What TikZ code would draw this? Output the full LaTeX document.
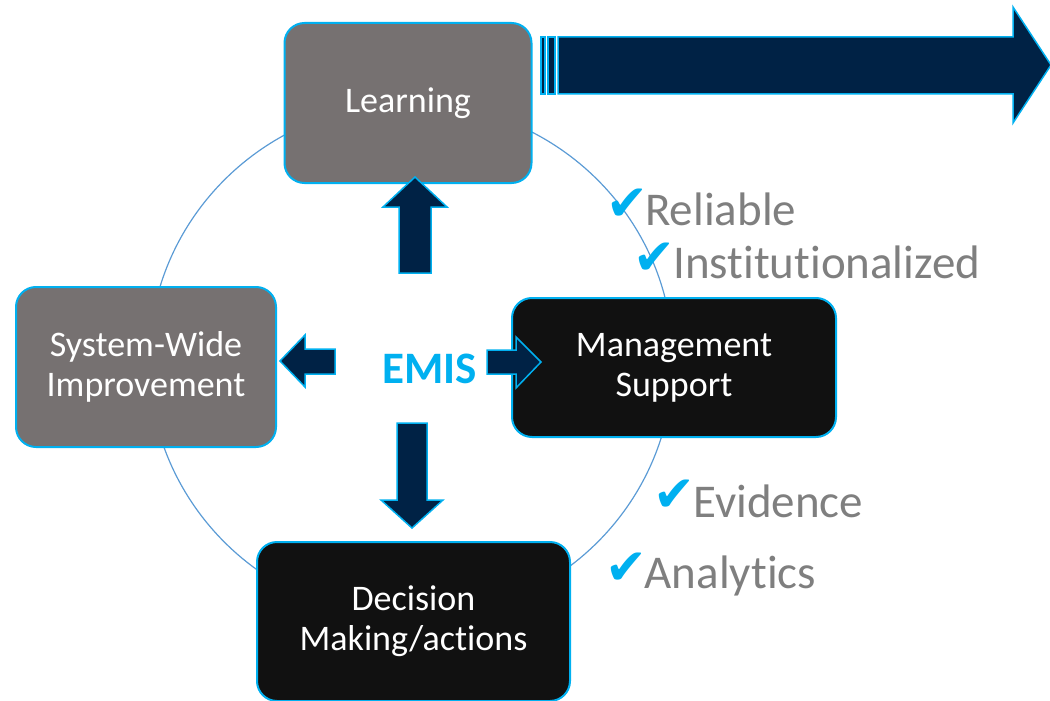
\documentclass[tikz,border=0pt]{standalone}
\usepackage{fontspec}
\setmainfont{Carlito}[Ligatures={NoCommon,NoContextual}]
\newfontfamily\symfont{DejaVu Sans}
\definecolor{boxgray}{HTML}{767171}
\definecolor{boxblack}{HTML}{111111}
\definecolor{cyanb}{HTML}{00B0F0}
\definecolor{navy}{HTML}{002245}
\definecolor{ringblue}{HTML}{5B9BD5}
\definecolor{labelgray}{HTML}{7F7F7F}
\begin{document}
\begin{tikzpicture}[x=1pt,y=-1pt,
 box/.style={draw=cyanb, line width=2pt, rounded corners=20pt, text=white, align=center, inner sep=0pt, font=\fontsize{36}{40}\selectfont},
 blockarrow/.style={fill=navy, draw=cyanb, line width=1.5pt, line join=miter},
 label/.style={anchor=base west, inner sep=0pt, text=labelgray, font=\fontsize{47}{56}\selectfont},
 tick/.style={inner sep=0pt, text=cyanb, font=\symfont\fontsize{50}{56}\selectfont}]
\useasboundingbox (0,0) rectangle (1050,701);
\clip (0,0) rectangle (1050,701);
% ring
\draw[ringblue, line width=1.2pt] (411,361) ellipse [x radius=262, y radius=258];
% boxes
\node[box, fill=boxgray, minimum width=247pt, minimum height=160pt] (learn) at (408,103) {Learning};
\node[box, fill=boxgray, minimum width=260pt, minimum height=160pt] (sys) at (146,367) {System-Wide\\Improvement};
\node[box, fill=boxblack, minimum width=324pt, minimum height=139pt] (mgmt) at (674,367.5) {Management\\Support};
\node[box, fill=boxblack, minimum width=313pt, minimum height=159pt] (dec) at (413.5,621.5) {Decision\\Making/actions};
% big striped arrow
\draw[blockarrow] (541,37) rectangle (545,94);
\draw[blockarrow] (548,37) rectangle (555,94);
\draw[blockarrow] (558,37) -- (1013,37) -- (1013,7) -- (1051,65) -- (1013,123) -- (1013,94) -- (558,94) -- cycle;
% block arrows around EMIS
\draw[blockarrow] (399,273) -- (399,207) -- (383,207) -- (415,177) -- (447,207) -- (431,207) -- (431,273) -- cycle;
\draw[blockarrow] (335,349) -- (305,349) -- (305,335) -- (280,361) -- (305,387) -- (305,374) -- (335,374) -- cycle;
\draw[blockarrow] (487,350) -- (516,350) -- (516,337) -- (541,362) -- (516,388) -- (516,374) -- (487,374) -- cycle;
\draw[blockarrow] (397,423) -- (427,423) -- (427,500) -- (443,500) -- (412,528) -- (381,500) -- (397,500) -- cycle;
% center text
\node[font=\bfseries\fontsize{45}{54}\selectfont, text=cyanb, inner sep=0pt, anchor=base] (emis) at (429.5,383) {EMIS};
% labels
\node[tick] (t1) at (627.5,204.5) {✔};
\node[label] (l1) at (645,225) {Reliable};
\node[tick] (t2) at (654.5,258.5) {✔};
\node[label] (l2) at (673,278) {Institutionalized};
\node[tick] (t3) at (674.5,495.5) {✔};
\node[label] (l3) at (693,517) {Evidence};
\node[tick] (t4) at (626,569) {✔};
\node[label] (l4) at (644.5,588) {Analytics};
\end{tikzpicture}
\end{document}
